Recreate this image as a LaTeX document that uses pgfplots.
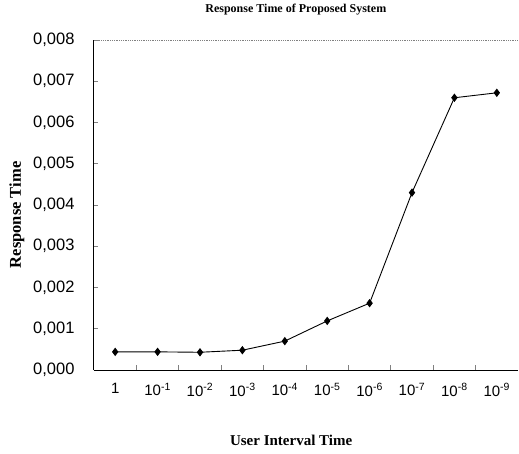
\documentclass[border=0pt]{standalone}
\usepackage{fontspec}
\setmainfont{Liberation Serif}
\setsansfont{Liberation Sans}
\usepackage{pgfplots}
\pgfplotsset{compat=1.18}
\begin{document}
\begin{tikzpicture}
\begin{axis}[
  scale only axis, width=424pt, height=330pt,
  xmin=-0.5, xmax=9.5, ymin=0, ymax=0.008,
  axis x line*=bottom, axis y line*=left,
  axis line style={line width=1pt, -},
  xtick={0,1,2,3,4,5,6,7,8,9},
  xticklabels={1,10\textsuperscript{-1},10\textsuperscript{-2},10\textsuperscript{-3},10\textsuperscript{-4},10\textsuperscript{-5},10\textsuperscript{-6},10\textsuperscript{-7},10\textsuperscript{-8},10\textsuperscript{-9}},
  major x tick style={draw=none},
  minor xtick={0.5,1.5,2.5,3.5,4.5,5.5,6.5,7.5,8.5},
  minor tick length=5pt,
  minor tick style={line width=0.8pt},
  ytick={0,0.001,0.002,0.003,0.004,0.005,0.006,0.007,0.008},
  yticklabels={{0,000},{0,001},{0,002},{0,003},{0,004},{0,005},{0,006},{0,007},{0,008}},
  scaled y ticks=false,
  major tick length=4pt,
  tick align=inside,
  ytick style={line width=0.8pt},
  yticklabel style={font=\sffamily\fontsize{16.5}{18}\selectfont, xshift=-16pt},
  xticklabel style={font=\sffamily\fontsize{15}{17}\selectfont, yshift=-10pt},
  title={Response Time of Proposed System},
  title style={font=\bfseries\fontsize{12}{14}\selectfont, at={(0.476,1.0727)}, anchor=center},
  xlabel={User Interval Time},
  xlabel style={font=\bfseries\fontsize{15}{17}\selectfont, at={(0.465,-0.212)}, anchor=center},
  ylabel={Response Time},
  ylabel style={font=\bfseries\fontsize{16.5}{18}\selectfont, at={(-0.1816,0.47)}, anchor=center},
  clip=false,
]
\addplot[black, line width=0.9pt, mark=diamond*, mark size=3.5pt] coordinates {
  (0,0.00044) (1,0.00044) (2,0.00043) (3,0.00048) (4,0.00070)
  (5,0.00119) (6,0.00162) (7,0.00430) (8,0.00660) (9,0.00672)
};
\draw[gray, densely dotted, line width=0.8pt] (rel axis cs:0,1) -- (rel axis cs:1,1);
\coordinate (O) at (rel axis cs:0,0);
\end{axis}
\pgfresetboundingbox
\path[use as bounding box] (O) ++(-94pt,-83pt) rectangle ++(519pt,453pt);
\end{tikzpicture}
\end{document}
